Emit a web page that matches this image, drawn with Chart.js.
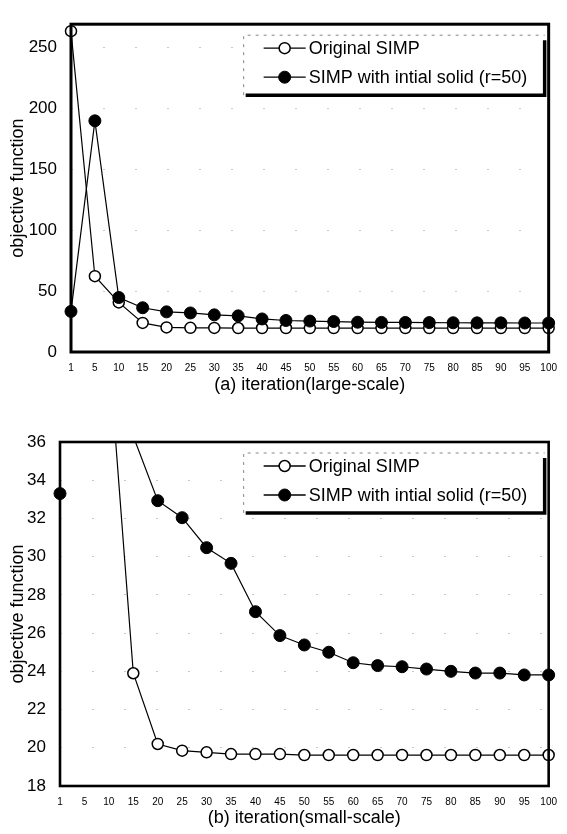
<!DOCTYPE html>
<html>
<head>
<meta charset="utf-8">
<script src="https://cdn.jsdelivr.net/npm/chart.js@4.4.1/dist/chart.umd.min.js"></script>
<style>
  body { margin: 0; background: #fff; width: 567px; height: 834px; overflow: hidden; }
  .box { position: absolute; left: 0; width: 567px; }
  #boxA { top: 0; height: 400px; }
  #boxB { top: 400px; height: 434px; }
</style>
</head>
<body>
<div class="box" id="boxA"><canvas id="chartA"></canvas></div>
<div class="box" id="boxB"><canvas id="chartB"></canvas></div>
<script>
// iteration numbers on the x axis
const iterations = ['1', '5', '10', '15', '20', '25', '30', '35', '40', '45', '50',
                    '55', '60', '65', '70', '75', '80', '85', '90', '95', '100'];

const seriesNames = ['Original SIMP', 'SIMP with intial solid (r=50)'];

// objective function per iteration
const originalSimp = [263.3, 62.2, 40.7, 23.9, 20.2, 19.85, 19.76, 19.67, 19.67, 19.67, 19.62,
                      19.62, 19.62, 19.62, 19.62, 19.62, 19.62, 19.62, 19.62, 19.62, 19.62];
const initialSolid = [33.3, 189.7, 44.7, 36.3, 32.93, 32.04, 30.47, 29.65, 27.12, 25.87, 25.38,
                      25.0, 24.45, 24.3, 24.24, 24.12, 24.0, 23.91, 23.91, 23.81, 23.81];

// y ticks of both panels
const largeTicks = [0, 50, 100, 150, 200, 250];
const smallTicks = [18, 20, 22, 24, 26, 28, 30, 32, 34, 36];

const FONT = '"Liberation Sans", Arial, sans-serif';

// black frame round the plot area
const framePlugin = {
  id: 'frame',
  afterDatasetsDraw(chart, args, opts) {
    const a = chart.chartArea, ctx = chart.ctx;
    ctx.save();
    ctx.strokeStyle = '#000';
    ctx.lineWidth = opts.width || 3;
    ctx.strokeRect(a.left, a.top, a.right - a.left, a.bottom - a.top);
    ctx.restore();
  }
};

// legend box with shadow in the top right corner
const boxLegend = {
  id: 'boxLegend',
  afterDraw(chart) {
    const ctx = chart.ctx, a = chart.chartArea;
    const w = 301, h = 60;
    const right = a.right - 4, top = a.top + 11, left = right - w, bottom = top + h;
    ctx.save();
    ctx.fillStyle = '#fff';
    ctx.fillRect(left, top, w, h);
    ctx.strokeStyle = '#888';
    ctx.lineWidth = 1;
    ctx.setLineDash([3, 5]);
    ctx.beginPath();
    ctx.moveTo(left, bottom); ctx.lineTo(left, top); ctx.lineTo(right, top);
    ctx.stroke();
    ctx.setLineDash([]);
    ctx.strokeStyle = '#000';
    ctx.lineWidth = 3.5;
    ctx.beginPath();
    ctx.moveTo(right, top + 5); ctx.lineTo(right, bottom); ctx.lineTo(left + 2, bottom);
    ctx.stroke();

    chart.data.datasets.forEach((ds, i) => {
      const y = top + 13 + i * 29;
      ctx.strokeStyle = '#000';
      ctx.lineWidth = 1.3;
      ctx.beginPath();
      ctx.moveTo(left + 20, y); ctx.lineTo(left + 62, y);
      ctx.stroke();
      ctx.beginPath();
      ctx.arc(left + 41, y, ds.pointRadius, 0, Math.PI * 2);
      ctx.fillStyle = ds.pointBackgroundColor;
      ctx.fill();
      ctx.lineWidth = ds.pointBorderWidth;
      ctx.stroke();
      ctx.fillStyle = '#000';
      ctx.font = '18px ' + FONT;
      ctx.textBaseline = 'middle';
      ctx.fillText(ds.label, left + 65, y + 1);
    });
    ctx.restore();
  }
};

function makeChart(id, opt) {
  return new Chart(document.getElementById(id), {
    type: 'line',
    data: {
      labels: iterations,
      datasets: [{
        label: seriesNames[0],
        data: originalSimp,
        borderColor: '#000',
        borderWidth: 1.2,
        pointRadius: 5.5,
        pointBorderWidth: 1.5,
        pointBackgroundColor: '#fff',
        pointBorderColor: '#000',
        tension: 0,
        order: 1,
        clip: { left: 10, right: 10, top: 0, bottom: 0 }
      }, {
        label: seriesNames[1],
        data: initialSolid,
        borderColor: '#000',
        borderWidth: 1.2,
        pointRadius: 6,
        pointBorderWidth: 1,
        pointBackgroundColor: '#000',
        pointBorderColor: '#000',
        tension: 0,
        order: 0,
        clip: { left: 10, right: 10, top: 0, bottom: 0 }
      }]
    },
    options: {
      responsive: true,
      maintainAspectRatio: false,
      animation: false,
      layout: { padding: { top: opt.padTop, right: 10, left: 0, bottom: 0 } },
      plugins: {
        legend: { display: false },
        tooltip: { enabled: false },
        frame: { width: opt.frame }
      },
      scales: {
        x: {
          offset: false,
          grid: { display: false, drawTicks: false },
          border: { display: false },
          ticks: { color: '#000', padding: 10, maxRotation: 0, autoSkip: false,
                   font: { family: FONT, size: 10 } },
          title: { display: true, text: opt.xTitle, color: '#000',
                   font: { family: FONT, size: 18 }, padding: { top: 0, bottom: opt.titlePad } },
          afterFit(scale) { scale.height = 48; }
        },
        y: {
          min: opt.min,
          max: opt.max,
          // faint sparse dotted grid
          grid: { color: 'rgba(0,0,0,0.22)', drawTicks: false, lineWidth: 1 },
          border: { display: false, dash: [2, 30] },
          ticks: { color: '#000', padding: 14, font: { family: FONT, size: 17 } },
          afterBuildTicks(scale) { scale.ticks = opt.ticks.map(v => ({ value: v })); },
          title: { display: true, text: 'objective function', color: '#000',
                   font: { family: FONT, size: 18 }, padding: { top: 7, bottom: 0 } },
          afterFit(scale) { scale.width = opt.yWidth; }
        }
      }
    },
    plugins: [framePlugin, boxLegend]
  });
}

makeChart('chartA', {
  min: 0, max: 269, ticks: largeTicks, yWidth: 71, padTop: 9, frame: 3,
  xTitle: '(a) iteration(large-scale)', titlePad: 4
});
makeChart('chartB', {
  min: 18, max: 36, ticks: smallTicks, yWidth: 60, padTop: 42, frame: 2.6,
  xTitle: '(b) iteration(small-scale)', titlePad: 5
});
</script>
</body>
</html>
